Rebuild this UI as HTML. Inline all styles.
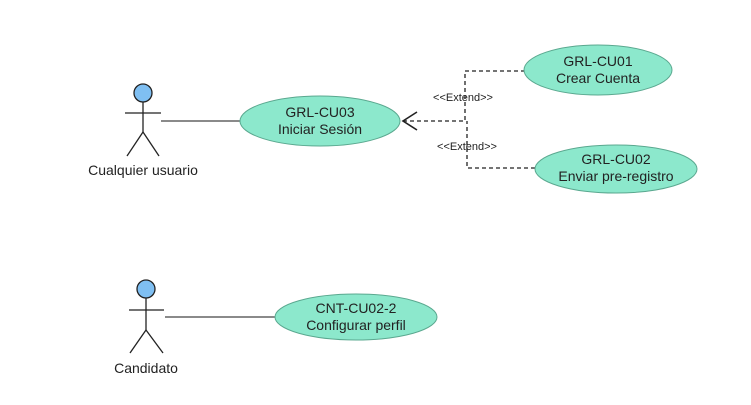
<!DOCTYPE html>
<html><head><meta charset="utf-8"><style>
html,body{margin:0;padding:0;background:#fff;}
svg{display:block;}
text{font-family:"Liberation Sans",sans-serif;fill:#222;}
</style></head><body>
<svg width="751" height="405" viewBox="0 0 751 405" xmlns="http://www.w3.org/2000/svg">
<g stroke="#222" stroke-width="1.3" fill="none">
  <circle cx="143" cy="93" r="9" fill="#7fbff2"/>
  <line x1="143" y1="102" x2="143" y2="132"/>
  <line x1="125" y1="113" x2="161" y2="113"/>
  <line x1="143" y1="132" x2="127" y2="156"/>
  <line x1="143" y1="132" x2="159" y2="156"/>
  <circle cx="146" cy="289" r="9" fill="#7fbff2"/>
  <line x1="146" y1="298" x2="146" y2="330"/>
  <line x1="129" y1="310" x2="164" y2="310"/>
  <line x1="146" y1="330" x2="130" y2="353"/>
  <line x1="146" y1="330" x2="163" y2="353"/>
  <line x1="161" y1="121" x2="240" y2="121" stroke="#444"/>
  <line x1="165" y1="317" x2="275" y2="317" stroke="#444"/>
  <polyline points="525,71 465,71 465,121 404,121" stroke-dasharray="4,3"/>
  <polyline points="535,168 467,168 467,121" stroke-dasharray="4,3"/>
  <polyline points="417,112 403,121 417,130" stroke-width="1.6"/>
</g>
<g stroke="#5aa88f" stroke-width="1" fill="#8ce8cc">
  <ellipse cx="320" cy="121" rx="80" ry="25"/>
  <ellipse cx="598" cy="70" rx="74" ry="25"/>
  <ellipse cx="616" cy="169" rx="81" ry="24"/>
  <ellipse cx="356" cy="317" rx="81" ry="23"/>
</g>
<g font-size="14" text-anchor="middle">
  <text x="320" y="117">GRL-CU03</text>
  <text x="320" y="134">Iniciar Sesión</text>
  <text x="598" y="66">GRL-CU01</text>
  <text x="598" y="83">Crear Cuenta</text>
  <text x="616" y="164">GRL-CU02</text>
  <text x="616" y="181">Enviar pre-registro</text>
  <text x="356" y="313">CNT-CU02-2</text>
  <text x="356" y="330">Configurar perfil</text>
  <text x="143" y="175">Cualquier usuario</text>
  <text x="146" y="373">Candidato</text>
</g>
<g font-size="11" text-anchor="middle">
  <text x="463" y="101">&lt;&lt;Extend&gt;&gt;</text>
  <text x="467" y="150">&lt;&lt;Extend&gt;&gt;</text>
</g>
</svg>
</body></html>
